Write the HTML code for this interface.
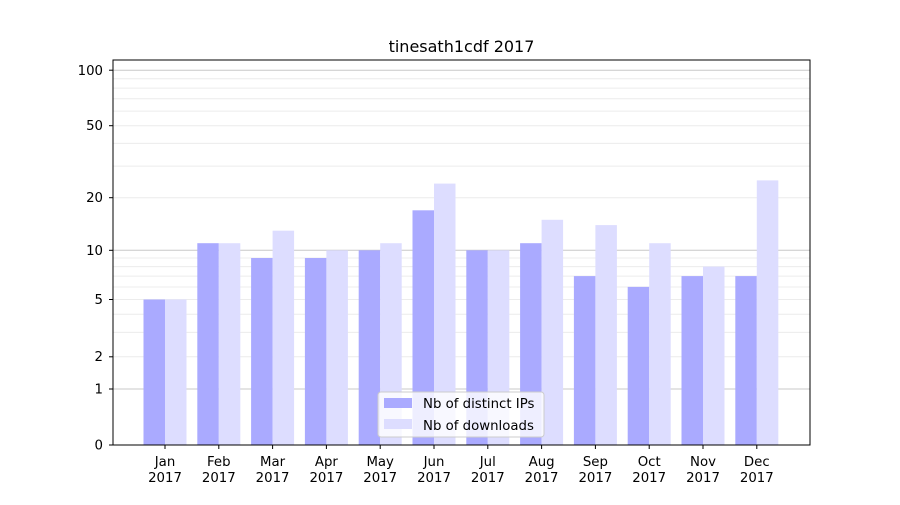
<!DOCTYPE html>
<html><head><meta charset="utf-8"><style>body{margin:0;background:#fff}</style></head><body>
<svg width="900" height="500" xmlns="http://www.w3.org/2000/svg" font-family="DejaVu Sans, Liberation Sans, sans-serif" font-size="13.3">
<rect width="900" height="500" fill="#fff"/>
<g stroke="#ececec" stroke-width="1">
<line x1="113" x2="810" y1="356.8" y2="356.8"/><line x1="113" x2="810" y1="332.4" y2="332.4"/><line x1="113" x2="810" y1="314.3" y2="314.3"/><line x1="113" x2="810" y1="299.5" y2="299.5"/><line x1="113" x2="810" y1="287" y2="287"/><line x1="113" x2="810" y1="276.1" y2="276.1"/><line x1="113" x2="810" y1="266.6" y2="266.6"/><line x1="113" x2="810" y1="258" y2="258"/>
<line x1="113" x2="810" y1="197.7" y2="197.7"/><line x1="113" x2="810" y1="166.1" y2="166.1"/><line x1="113" x2="810" y1="143.4" y2="143.4"/><line x1="113" x2="810" y1="125.7" y2="125.7"/><line x1="113" x2="810" y1="111.1" y2="111.1"/><line x1="113" x2="810" y1="98.8" y2="98.8"/><line x1="113" x2="810" y1="88.1" y2="88.1"/><line x1="113" x2="810" y1="78.7" y2="78.7"/>
</g>
<g stroke="#c8c8c8"><line x1="113" x2="810" y1="389" y2="389"/><line x1="113" x2="810" y1="250.3" y2="250.3"/><line x1="113" x2="810" y1="70.2" y2="70.2"/></g>
<g fill="#aaaaff">
<rect x="143.5" y="299.5" width="21.5" height="145.5"/>
<rect x="197.3" y="243.2" width="21.5" height="201.8"/>
<rect x="251.1" y="258" width="21.5" height="187"/>
<rect x="304.9" y="258" width="21.5" height="187"/>
<rect x="358.7" y="250.3" width="21.5" height="194.7"/>
<rect x="412.5" y="210.3" width="21.5" height="234.7"/>
<rect x="466.3" y="250.3" width="21.5" height="194.7"/>
<rect x="520.1" y="243.2" width="21.5" height="201.8"/>
<rect x="573.9" y="276.1" width="21.5" height="168.9"/>
<rect x="627.7" y="286.9" width="21.5" height="158.1"/>
<rect x="681.5" y="276.1" width="21.5" height="168.9"/>
<rect x="735.3" y="276.1" width="21.5" height="168.9"/>
</g>
<g fill="#ddddff">
<rect x="165" y="299.5" width="21.5" height="145.5"/>
<rect x="218.8" y="243.2" width="21.5" height="201.8"/>
<rect x="272.6" y="230.7" width="21.5" height="214.3"/>
<rect x="326.4" y="250.3" width="21.5" height="194.7"/>
<rect x="380.2" y="243.2" width="21.5" height="201.8"/>
<rect x="434" y="183.6" width="21.5" height="261.4"/>
<rect x="487.8" y="250.3" width="21.5" height="194.7"/>
<rect x="541.6" y="219.8" width="21.5" height="225.2"/>
<rect x="595.4" y="225.1" width="21.5" height="219.9"/>
<rect x="649.2" y="243.2" width="21.5" height="201.8"/>
<rect x="703" y="266.6" width="21.5" height="178.4"/>
<rect x="756.8" y="180.4" width="21.5" height="264.6"/>
</g>
<g stroke="#000">
<line x1="165" x2="165" y1="445" y2="449"/><line x1="218.8" x2="218.8" y1="445" y2="449"/><line x1="272.6" x2="272.6" y1="445" y2="449"/><line x1="326.4" x2="326.4" y1="445" y2="449"/><line x1="380.2" x2="380.2" y1="445" y2="449"/><line x1="434" x2="434" y1="445" y2="449"/><line x1="487.8" x2="487.8" y1="445" y2="449"/><line x1="541.6" x2="541.6" y1="445" y2="449"/><line x1="595.4" x2="595.4" y1="445" y2="449"/><line x1="649.2" x2="649.2" y1="445" y2="449"/><line x1="703" x2="703" y1="445" y2="449"/><line x1="756.8" x2="756.8" y1="445" y2="449"/>
</g>
<g text-anchor="middle">
<text x="165" y="466">Jan</text><text x="165" y="482">2017</text>
<text x="218.8" y="466">Feb</text><text x="218.8" y="482">2017</text>
<text x="272.6" y="466">Mar</text><text x="272.6" y="482">2017</text>
<text x="326.4" y="466">Apr</text><text x="326.4" y="482">2017</text>
<text x="380.2" y="466">May</text><text x="380.2" y="482">2017</text>
<text x="434" y="466">Jun</text><text x="434" y="482">2017</text>
<text x="487.8" y="466">Jul</text><text x="487.8" y="482">2017</text>
<text x="541.6" y="466">Aug</text><text x="541.6" y="482">2017</text>
<text x="595.4" y="466">Sep</text><text x="595.4" y="482">2017</text>
<text x="649.2" y="466">Oct</text><text x="649.2" y="482">2017</text>
<text x="703" y="466">Nov</text><text x="703" y="482">2017</text>
<text x="756.8" y="466">Dec</text><text x="756.8" y="482">2017</text>
</g>
<rect x="113" y="60" width="697" height="385" fill="none" stroke="#000"/>
<g text-anchor="end">
<text x="103" y="449.5">0</text><line x1="109" x2="113" y1="445" y2="445" stroke="#000"/>
<text x="103" y="393.5">1</text><line x1="109" x2="113" y1="389" y2="389" stroke="#000"/>
<text x="103" y="361">2</text><line x1="109" x2="113" y1="356.8" y2="356.8" stroke="#000"/>
<text x="103" y="304">5</text><line x1="109" x2="113" y1="299.5" y2="299.5" stroke="#000"/>
<text x="103" y="255">10</text><line x1="109" x2="113" y1="250.3" y2="250.3" stroke="#000"/>
<text x="103" y="202">20</text><line x1="109" x2="113" y1="197.7" y2="197.7" stroke="#000"/>
<text x="103" y="130">50</text><line x1="109" x2="113" y1="125.7" y2="125.7" stroke="#000"/>
<text x="103" y="75">100</text><line x1="109" x2="113" y1="70.2" y2="70.2" stroke="#000"/>
</g>
<text x="461.5" y="52" text-anchor="middle" font-size="16">tinesath1cdf 2017</text>
<rect x="378" y="392" width="166" height="45" rx="3" fill="#fff" fill-opacity="0.8" stroke="#ccc"/>
<rect x="384" y="398" width="28" height="10" fill="#aaaaff"/>
<text x="423" y="408">Nb of distinct IPs</text>
<rect x="384" y="419" width="28" height="10" fill="#ddddff"/>
<text x="423" y="430">Nb of downloads</text>
</svg>
</body></html>
